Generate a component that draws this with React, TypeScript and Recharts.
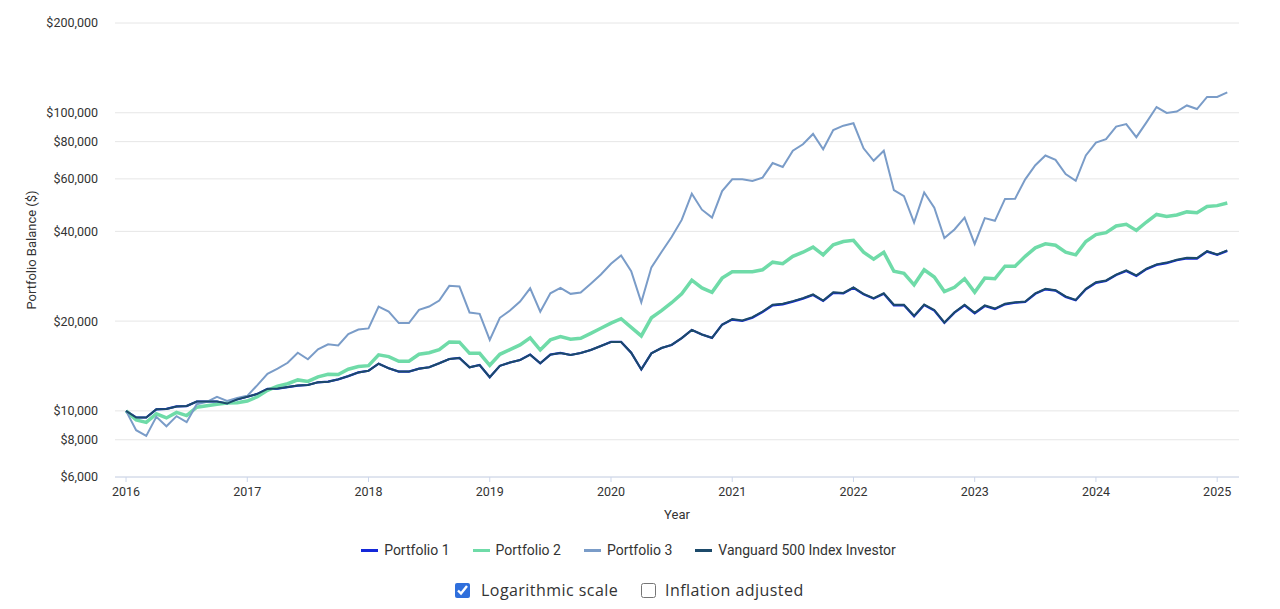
import React from 'react';
import { LineChart, Line, XAxis, YAxis, CartesianGrid, Legend, Label } from 'recharts';

// monthly balances, Jan 2016 .. Feb 2025, $10,000 start
const START_YEAR = 2016;
const yearTicks = [2016, 2017, 2018, 2019, 2020, 2021, 2022, 2023, 2024, 2025];
const balanceTicks = [6000, 8000, 10000, 20000, 40000, 60000, 80000, 100000, 200000];

const portfolio1 = [
  10000, 9500, 9500, 10120, 10150, 10350, 10380, 10750, 10750, 10750, 10580, 10930,
  11150, 11400, 11850, 11880, 12020, 12160, 12210, 12470, 12530, 12750, 13080, 13460,
  13630, 14400, 13890, 13540, 13540, 13850, 14000, 14440, 14930, 15050, 14000, 14250,
  12970, 14160, 14530, 14810, 15440, 14440, 15440, 15640, 15400, 15640, 16000, 16500,
  17030, 17030, 15670, 13770, 15590, 16250, 16640, 17540, 18680, 18040, 17570, 19460,
  20230, 20020, 20540, 21450, 22600, 22770, 23250, 23790, 24470, 23360, 24890, 24770,
  25870, 24590, 23790, 24700, 22600, 22610, 20760, 22650, 21710, 19720, 21350, 22600,
  21250, 22480, 21950, 22770, 23050, 23180, 24700, 25560, 25300, 24110, 23480, 25560,
  26890, 27270, 28550, 29470, 28360, 29880, 30880, 31300, 32000, 32490, 32420, 34220,
  33360, 34410,
];

const portfolio2 = [
  10000, 9330, 9150, 9770, 9470, 9880, 9640, 10290, 10400, 10520, 10620, 10640,
  10790, 11150, 11720, 12110, 12330, 12700, 12550, 13010, 13260, 13240, 13790, 14090,
  14180, 15420, 15200, 14660, 14670, 15480, 15670, 16040, 17030, 17000, 15590, 15590,
  14220, 15480, 16040, 16640, 17570, 16000, 17300, 17750, 17390, 17520, 18200, 18920,
  19700, 20370, 19060, 17840, 20520, 21700, 23050, 24690, 27450, 25840, 24990, 27880,
  29290, 29290, 29290, 29740, 31530, 31160, 32990, 34050, 35410, 33370, 36060, 37000,
  37330, 34050, 32270, 34050, 29390, 28930, 26470, 29740, 28100, 25120, 25970, 27740,
  24990, 27880, 27740, 30560, 30560, 32990, 35230, 36340, 35940, 34050, 33370, 37000,
  39000, 39600, 41700, 42250, 40300, 43000, 45600, 44900, 45400, 46500, 46200, 48500,
  48800, 49800,
];

const portfolio3 = [
  10000, 8610, 8240, 9550, 8880, 9600, 9160, 10530, 10720, 11150, 10800, 11040,
  11230, 12200, 13320, 13850, 14500, 15670, 14900, 16080, 16720, 16580, 18110, 18750,
  18910, 22380, 21540, 19700, 19700, 21830, 22380, 23450, 26270, 26130, 21380, 21160,
  17300, 20520, 21700, 23270, 25770, 21520, 24800, 25840, 24690, 24940, 26700, 28660,
  31160, 33210, 29390, 23140, 30300, 34100, 38280, 43700, 53500, 47300, 44500, 54600,
  59800, 59800, 59000, 60600, 67800, 65800, 74600, 78400, 84900, 75400, 87500, 90500,
  92200, 76000, 69000, 74600, 55000, 52500, 42800, 54000, 48000, 38000, 40600, 44500,
  36300, 44300, 43400, 51400, 51500, 59800, 66700, 71850, 69500, 62300, 59100, 71900,
  79400, 81500, 89900, 91600, 82800, 92800, 104500, 99900, 100900, 105800, 102900, 113000,
  113000, 117100,
];

const vanguard500 = [
  10000, 9500, 9500, 10120, 10150, 10350, 10380, 10750, 10750, 10750, 10580, 10930,
  11150, 11400, 11850, 11880, 12020, 12160, 12210, 12470, 12530, 12750, 13080, 13460,
  13630, 14400, 13890, 13540, 13540, 13850, 14000, 14440, 14930, 15050, 14000, 14250,
  12970, 14160, 14530, 14810, 15440, 14440, 15440, 15640, 15400, 15640, 16000, 16500,
  17030, 17030, 15670, 13770, 15590, 16250, 16640, 17540, 18680, 18040, 17570, 19460,
  20310, 20100, 20620, 21540, 22690, 22860, 23340, 23880, 24570, 23450, 24990, 24870,
  25970, 24690, 23880, 24800, 22690, 22700, 20840, 22740, 21800, 19800, 21430, 22690,
  21330, 22570, 22040, 22860, 23140, 23270, 24800, 25660, 25400, 24210, 23570, 25660,
  27000, 27380, 28660, 29590, 28470, 30000, 31000, 31430, 32130, 32620, 32550, 34360,
  33490, 34550,
];

const data = vanguard500.map((v, i) => ({
  t: START_YEAR + i / 12,
  p1: portfolio1[i],
  p2: portfolio2[i],
  p3: portfolio3[i],
  vfinx: v,
}));

const fmtMoney = (v: number) => '$' + v.toLocaleString('en-US');

const LegendRow = ({ payload }: any) => {
  const items = payload || [];
  return (
    <div style={{ display: 'flex', justifyContent: 'center', alignItems: 'center', fontSize: 14, color: '#333' }}>
      {items.map((entry: any, idx: number) => (
        <span
          key={entry.value}
          style={{ display: 'inline-flex', alignItems: 'center', marginRight: idx < items.length - 1 ? 23 : 0 }}
        >
          <span style={{ display: 'inline-block', width: 17, height: 3, background: entry.color, marginRight: 6 }} />
          <span>{entry.value}</span>
        </span>
      ))}
    </div>
  );
};

export default function App() {
  return (
    <div style={{ width: 1264, fontFamily: 'Roboto, sans-serif', position: 'relative' }}>
      <LineChart width={1264} height={570} data={data} margin={{ top: 15, right: 33, left: 0, bottom: 0 }}>
        <CartesianGrid vertical={false} stroke="#e6e6e6" />
        <XAxis
          type="number"
          dataKey="t"
          domain={[2015.909, 2025.18]}
          ticks={yearTicks}
          allowDataOverflow
          height={45}
          stroke="#ccd6eb"
          tickSize={5}
          tickMargin={5}
          tick={{ fontSize: 12.5, fill: '#333' }}
        >
          <Label value="Year" position="insideBottom" offset={3} style={{ fontSize: 13, fill: '#333' }} />
        </XAxis>
        <YAxis
          scale="log"
          domain={[6000, 200000]}
          ticks={balanceTicks}
          allowDataOverflow
          width={107}
          axisLine={false}
          tickLine={false}
          tickSize={6}
          tickMargin={11}
          tickFormatter={fmtMoney}
          tick={{ fontSize: 12.5, fill: '#333' }}
        >
          <Label
            value="Portfolio Balance ($)"
            angle={-90}
            position="insideLeft"
            offset={23}
            style={{ textAnchor: 'middle', fontSize: 13, fill: '#333' }}
          />
        </YAxis>
        <Legend
          verticalAlign="bottom"
          content={<LegendRow />}
          wrapperStyle={{ left: 0, width: 1241, height: 56, paddingTop: 20, boxSizing: 'border-box' }}
        />
        <Line type="linear" dataKey="p1" name="Portfolio 1" stroke="#1428d9" strokeWidth={2.2} dot={false} isAnimationActive={false} />
        <Line type="linear" dataKey="p2" name="Portfolio 2" stroke="#6fdba8" strokeWidth={3.5} dot={false} isAnimationActive={false} />
        <Line type="linear" dataKey="p3" name="Portfolio 3" stroke="#7a9cc8" strokeWidth={2} dot={false} isAnimationActive={false} />
        <Line type="linear" dataKey="vfinx" name="Vanguard 500 Index Investor" stroke="#1c4a6a" strokeWidth={2} dot={false} isAnimationActive={false} />
      </LineChart>
      <div style={{ position: 'relative', height: 24, fontFamily: '"Open Sans", sans-serif', fontSize: 16, letterSpacing: 0.45, color: '#333' }}>
        <label style={{ position: 'absolute', left: 447, top: 0, height: 24, display: 'flex', alignItems: 'center' }}>
          <input type="checkbox" defaultChecked style={{ width: 15, height: 15, margin: 0, marginRight: 11, accentColor: '#2f6fdc' }} />
          Logarithmic scale
        </label>
        <label style={{ position: 'absolute', left: 633, top: 0, height: 24, display: 'flex', alignItems: 'center' }}>
          <input type="checkbox" style={{ width: 15, height: 15, margin: 0, marginRight: 9 }} />
          Inflation adjusted
        </label>
      </div>
    </div>
  );
}
